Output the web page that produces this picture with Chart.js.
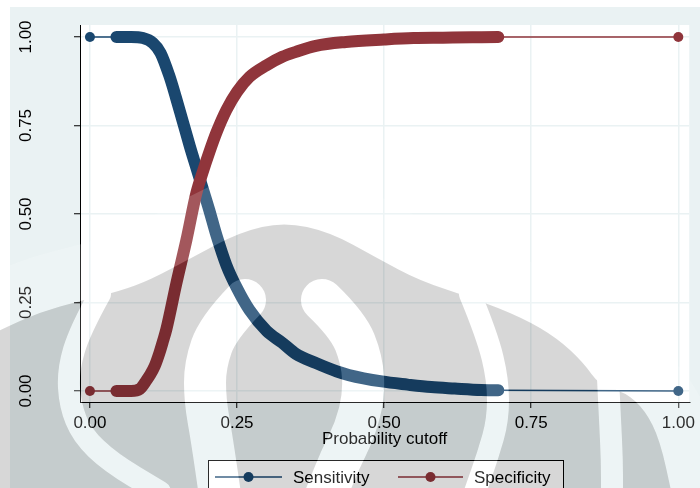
<!DOCTYPE html>
<html>
<head>
<meta charset="utf-8">
<script src="https://cdn.jsdelivr.net/npm/chart.js@4/dist/chart.umd.min.js"></script>
<style>
  html, body { margin: 0; padding: 0; background: #fff; }
  canvas { display: block; }
</style>
</head>
<body>
<canvas id="chart" width="700" height="488"></canvas>
<script>
// values
const xTicks = [0, 0.25, 0.5, 0.75, 1];
const yTicks = [0, 0.25, 0.5, 0.75, 1];

const sensCutoff = [0, 0.045, 0.07, 0.09, 0.107, 0.12, 0.135, 0.146, 0.157, 0.17, 0.181, 0.192, 0.203, 0.215, 0.232, 0.25, 0.271, 0.3, 0.327, 0.35, 0.384, 0.42, 0.44, 0.496, 0.54, 0.58, 0.62, 0.665, 0.694, 1];
const sensValue = [1, 1, 1, 0.997, 0.983, 0.955, 0.89, 0.83, 0.766, 0.69, 0.63, 0.57, 0.51, 0.44, 0.355, 0.29, 0.229, 0.17, 0.136, 0.105, 0.079, 0.055, 0.045, 0.027, 0.018, 0.011, 0.007, 0.003, 0.002, 0];

const specCutoff = [0, 0.045, 0.07, 0.085, 0.096, 0.102, 0.11, 0.118, 0.124, 0.13, 0.147, 0.164, 0.181, 0.192, 0.203, 0.215, 0.232, 0.25, 0.271, 0.3, 0.327, 0.35, 0.384, 0.435, 0.5, 0.55, 0.6, 0.65, 0.694, 1];
const specValue = [0, 0, 0, 0.006, 0.03, 0.045, 0.07, 0.107, 0.14, 0.175, 0.305, 0.427, 0.56, 0.62, 0.675, 0.73, 0.794, 0.845, 0.887, 0.92, 0.944, 0.958, 0.975, 0.986, 0.993, 0.997, 0.998, 0.999, 1, 1];

// the dense run of cutoffs (drawn as a thick band of markers)
const bandFrom = 0.045;
const bandTo = 0.694;

const NAVY = "#1a476f";
const MAROON = "#90353b";
const BG = "#eaf2f3";
const FONT = "'Liberation Sans', Arial, sans-serif";

const pts = (xs, ys) => xs.map((x, i) => ({ x, y: ys[i] }));

function series(label, xs, ys, color, order) {
  const last = xs.length - 1;
  return {
    label,
    data: pts(xs, ys),
    order,
    borderColor: color,
    backgroundColor: color,
    borderWidth: 1.5,
    borderCapStyle: "round",
    borderJoinStyle: "round",
    cubicInterpolationMode: "monotone",
    pointRadius: (c) => (c.dataIndex === 0 || c.dataIndex === last ? 5 : 0),
    pointBorderWidth: 0,
    pointBackgroundColor: color,
    segment: {
      borderWidth: (c) =>
        c.p0.parsed.x >= bandFrom - 1e-9 && c.p1.parsed.x <= bandTo + 1e-9 ? 12 : 1.5,
    },
  };
}

function smooth(c, p) {
  c.lineTo(p[0][0], p[0][1]);
  for (let i = 1; i < p.length - 1; i++) {
    c.quadraticCurveTo(p[i][0], p[i][1], (p[i][0] + p[i + 1][0]) / 2, (p[i][1] + p[i + 1][1]) / 2);
  }
  c.lineTo(p[p.length - 1][0], p[p.length - 1][1]);
}

// faded logo over the figure
const wmTop = [[-20, 340], [0, 330], [40, 312], [80, 301], [120, 291], [150, 280], [193, 257], [240, 232], [284, 222], [330, 232], [377, 258], [420, 281], [473, 298], [523, 318], [557, 338], [583, 362], [600, 386], [625, 392], [645, 410], [660, 440], [672, 495]];
const wmBands = [
  { w: 22, p: [[100, 294], [80, 330], [68, 370], [70, 405], [82, 435], [110, 462], [160, 492]] },
  { w: 22, p: [[470, 294], [487, 335], [498, 380], [498, 420], [488, 455], [475, 492]] },
  { w: 42, p: [[245, 300], [218, 328], [205, 365], [205, 400], [212, 440], [220, 495]] },
  { w: 42, p: [[322, 300], [348, 325], [362, 360], [364, 395], [355, 430], [340, 460], [326, 495]] },
  { w: 22, p: [[608, 378], [610, 420], [612, 460], [612, 495]] },
];

function silhouette(c) {
  c.beginPath();
  c.moveTo(-20, 495);
  smooth(c, wmTop);
  c.lineTo(672, 495);
  c.closePath();
}
function bands(c) {
  for (const b of wmBands) {
    c.lineWidth = b.w;
    c.lineCap = "round";
    c.beginPath();
    c.moveTo(b.p[0][0], b.p[0][1]);
    smooth(c, b.p);
    c.stroke();
  }
}

function drawWatermark(ctx) {
  const W = 700, H = 488;
  const gray = document.createElement("canvas");
  gray.width = W; gray.height = H;
  const g = gray.getContext("2d");
  g.fillStyle = "#000";
  silhouette(g);
  g.fill();
  g.globalCompositeOperation = "destination-out";
  g.strokeStyle = "#000";
  bands(g);

  const light = document.createElement("canvas");
  light.width = W; light.height = H;
  const l = light.getContext("2d");
  l.strokeStyle = "#fff";
  l.lineWidth = 110;
  l.lineJoin = "round";
  l.beginPath();
  l.moveTo(wmTop[0][0], wmTop[0][1]);
  smooth(l, wmTop);
  l.stroke();
  l.globalCompositeOperation = "destination-out";
  silhouette(l);
  l.fill();
  l.globalCompositeOperation = "source-over";
  bands(l);

  ctx.save();
  ctx.globalAlpha = 0.17;
  ctx.drawImage(light, 0, 0);
  ctx.globalAlpha = 0.153;
  ctx.drawImage(gray, 0, 0);
  ctx.restore();
}

function drawLegend(ctx) {
  ctx.save();
  ctx.fillStyle = "#fff";
  ctx.fillRect(208.5, 460.5, 355, 40);
  ctx.strokeStyle = "#000";
  ctx.lineWidth = 1;
  ctx.strokeRect(208.5, 460.5, 355, 40);
  const items = [
    { label: "Sensitivity", color: NAVY, x0: 215, x1: 282, tx: 293 },
    { label: "Specificity", color: MAROON, x0: 398, x1: 463, tx: 474 },
  ];
  const y = 477;
  ctx.font = `17px ${FONT}`;
  ctx.textBaseline = "middle";
  for (const it of items) {
    ctx.strokeStyle = it.color;
    ctx.lineWidth = 1.5;
    ctx.beginPath();
    ctx.moveTo(it.x0, y);
    ctx.lineTo(it.x1, y);
    ctx.stroke();
    ctx.fillStyle = it.color;
    ctx.beginPath();
    ctx.arc((it.x0 + it.x1) / 2, y, 5, 0, Math.PI * 2);
    ctx.fill();
    ctx.fillStyle = "#000";
    ctx.fillText(it.label, it.tx, y + 1);
  }
  ctx.restore();
}

const decor = {
  id: "decor",
  beforeDraw(chart) {
    const { ctx, chartArea: a } = chart;
    ctx.save();
    ctx.fillStyle = "#fff";
    ctx.fillRect(0, 0, 700, 488);
    ctx.fillStyle = BG;
    ctx.fillRect(10, 7, 690, 481);
    ctx.fillStyle = "#fff";
    ctx.fillRect(a.left, a.top, a.right - a.left, a.bottom - a.top);
    ctx.restore();
  },
  afterDraw(chart) {
    const { ctx } = chart;
    const ys = chart.scales.y;
    ctx.save();
    ctx.font = `17px ${FONT}`;
    ctx.fillStyle = "#000";
    ctx.textAlign = "center";
    ctx.textBaseline = "middle";
    for (const v of yTicks) {
      ctx.save();
      ctx.translate(25, ys.getPixelForValue(v));
      ctx.rotate(-Math.PI / 2);
      ctx.fillText(v.toFixed(2), 0, 1);
      ctx.restore();
    }
    ctx.restore();
    drawLegend(ctx);
    drawWatermark(ctx);
  },
};

new Chart(document.getElementById("chart"), {
  type: "line",
  data: {
    datasets: [
      series("Sensitivity", sensCutoff, sensValue, NAVY, 1),
      series("Specificity", specCutoff, specValue, MAROON, 0),
    ],
  },
  options: {
    responsive: false,
    devicePixelRatio: 1,
    animation: false,
    layout: { padding: { top: 25, right: 8, bottom: 0, left: 0 } },
    plugins: { legend: { display: false }, tooltip: { enabled: false } },
    scales: {
      x: {
        type: "linear",
        min: -0.0169,
        max: 1.0186,
        afterBuildTicks: (s) => { s.ticks = xTicks.map((value) => ({ value })); },
        afterFit: (s) => { s.height = 86; },
        ticks: {
          font: { family: FONT, size: 17 },
          color: "#000",
          padding: 5,
          maxRotation: 0,
          callback: (v) => Number(v).toFixed(2),
        },
        grid: { color: BG, lineWidth: 1.5, tickColor: "#000", tickLength: 6, tickWidth: 1 },
        border: { color: "#000", width: 1 },
        title: {
          display: true,
          text: "Probability cutoff",
          color: "#000",
          font: { family: FONT, size: 17 },
          padding: { top: 0, bottom: 38 },
        },
      },
      y: {
        type: "linear",
        min: -0.0311,
        max: 1.0339,
        afterBuildTicks: (s) => { s.ticks = yTicks.map((value) => ({ value })); },
        afterFit: (s) => { s.width = 80; },
        ticks: { display: false },
        grid: { color: BG, lineWidth: 1.5, tickColor: "#000", tickLength: 6, tickWidth: 1 },
        border: { color: "#000", width: 1 },
      },
    },
  },
  plugins: [decor],
});
</script>
</body>
</html>
